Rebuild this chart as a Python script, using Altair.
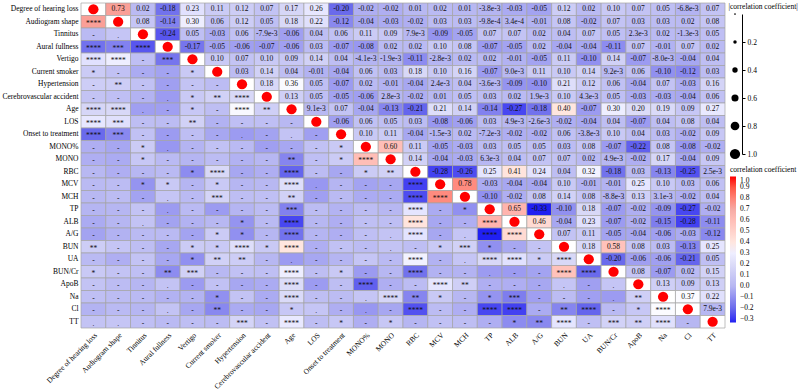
import altair as alt
import pandas as pd

# Variables in matrix order (rows top-to-bottom, columns left-to-right)
variables = [
    "Degree of hearing loss", "Audiogram shape", "Tinnitus", "Aural fullness",
    "Vertigo", "Current smoker", "Hypertension", "Cerebrovascular accident",
    "Age", "LOS", "Onset to treatment", "MONO%", "MONO", "RBC", "MCV", "MCH",
    "TP", "ALB", "A/G", "BUN", "UA", "BUN/Cr", "ApoB", "Na", "Cl", "TT",
]

# Upper triangle: correlation coefficients, row i holds columns i+1 .. end
r_deg = [0.73, 0.02, -0.18, 0.23, 0.11, 0.12, 0.07, 0.17, 0.26, -0.20, -0.02, -0.02, 0.01, 0.02, 0.01, -3.8e-3, -0.03, -0.05, 0.12, 0.02, 0.10, 0.07, 0.05, -6.8e-3, 0.07]
r_aud = [0.08, -0.14, 0.30, 0.06, 0.12, 0.05, 0.18, 0.22, -0.12, -0.04, -0.03, -0.02, 0.03, 0.03, -9.8e-4, 3.4e-4, -0.01, 0.08, -0.02, 0.07, 0.03, 0.03, 0.02, 0.08]
r_tin = [-0.24, 0.05, -0.03, 0.06, -7.9e-3, -0.06, 0.04, 0.06, 0.11, 0.09, 7.9e-3, -0.09, -0.05, 0.07, 0.07, 0.02, 0.04, 0.07, 0.05, 2.3e-3, 0.02, -1.3e-3, 0.05]
r_aur = [-0.17, -0.05, -0.06, -0.07, -0.06, 0.03, -0.07, -0.08, 0.02, 0.02, 0.10, 0.08, -0.07, -0.05, 0.02, -0.04, -0.04, -0.11, 0.07, -0.01, 0.07, 0.02]
r_ver = [0.10, 0.07, 0.10, 0.09, 0.14, 0.04, -4.1e-3, -1.9e-3, -0.11, -2.8e-3, 0.02, 0.02, -0.01, -0.05, 0.11, -0.10, 0.14, -0.07, -8.0e-3, -0.04, 0.04]
r_smk = [0.03, 0.14, 0.04, -0.01, -0.04, 0.06, 0.03, 0.18, 0.10, 0.16, -0.07, 9.0e-3, 0.11, 0.10, 0.14, 9.2e-3, 0.06, -0.10, -0.12, 0.03]
r_hyp = [0.18, 0.36, 0.05, -0.07, 0.02, -0.01, -0.04, 2.4e-3, 0.04, -3.6e-3, -0.09, -0.10, 0.21, 0.12, 0.06, -0.04, 0.07, -0.03, 0.16]
r_cva = [0.13, 0.05, -0.05, -0.06, 2.8e-3, -0.02, 0.01, 0.05, 0.03, 0.02, 1.9e-3, 0.10, 4.3e-3, 0.05, -0.03, -0.03, -0.04, 0.06]
r_age = [9.1e-3, 0.07, -0.04, -0.13, -0.21, 0.21, 0.14, -0.14, -0.27, -0.18, 0.40, -0.07, 0.30, 0.20, 0.19, 0.09, 0.27]
r_los = [-0.06, 0.06, 0.05, 0.03, -0.08, -0.06, 0.03, 4.9e-3, -2.6e-3, -0.02, -0.04, 0.04, -0.07, 0.04, 0.08, 0.04]
r_ons = [0.10, 0.11, -0.04, -1.5e-3, 0.02, -7.2e-3, -0.02, -0.02, 0.06, -3.8e-3, 0.10, 0.04, 0.03, -0.02, 0.09]
r_mop = [0.60, 0.11, -0.05, -0.03, 0.03, 0.05, 0.05, 0.03, 0.08, -0.07, -0.22, 0.08, -0.08, -0.02]
r_mon = [0.14, -0.04, -0.03, 6.3e-3, 0.04, 0.07, 0.07, 0.02, 4.9e-3, -0.02, 0.17, -0.04, 0.09]
r_rbc = [-0.28, -0.26, 0.25, 0.41, 0.24, 0.04, 0.32, -0.18, 0.03, -0.13, -0.25, 2.5e-3]
r_mcv = [0.78, -0.03, -0.04, -0.04, 0.10, -0.01, -0.01, 0.25, 0.10, 0.03, 0.06]
r_mch = [-0.10, -0.02, 0.08, 0.14, 0.08, -8.8e-3, 0.13, 3.1e-3, -0.02, 0.04]
r_tp = [0.65, -0.33, -0.10, 0.18, -0.07, -0.02, -0.09, -0.27, -0.02]
r_alb = [0.46, -0.04, 0.23, -0.07, -0.02, -0.15, -0.28, -0.11]
r_ag = [0.07, 0.11, -0.05, -0.04, -0.06, -0.03, -0.12]
r_bun = [0.18, 0.58, 0.08, 0.03, -0.13, 0.25]
r_ua = [-0.20, -0.06, -0.06, -0.21, 0.05]
r_bcr = [0.08, -0.07, 0.02, 0.15]
r_apob = [0.13, 0.09, 0.13]
r_na = [0.37, 0.22]
r_cl = [7.9e-3]
upper = [r_deg, r_aud, r_tin, r_aur, r_ver, r_smk, r_hyp, r_cva, r_age, r_los,
         r_ons, r_mop, r_mon, r_rbc, r_mcv, r_mch, r_tp, r_alb, r_ag, r_bun,
         r_ua, r_bcr, r_apob, r_na, r_cl]

# Lower triangle: significance marks, row i holds columns 0 .. i-1
s_aud = ["****"]
s_tin = ["-", "."]
s_aur = ["****", "***", "****"]
s_ver = ["****", "****", "-", "***"]
s_smk = ["*", "-", "-", "-", "*"]
s_hyp = ["-", "**", "-", "-", "-", "-"]
s_cva = ["-", "-", "-", ".", "*", "**", "****"]
s_age = ["****", "****", ".", "-", "*", "-", "****", "**"]
s_los = ["****", "***", "-", "-", "**", "-", "-", "-", "-"]
s_ons = ["****", "***", "-", "-", "-", "-", ".", "-", ".", "-"]
s_mop = ["-", "-", "*", ".", "-", "-", "-", "-", "-", "-", "*"]
s_mon = ["-", "-", "*", "-", "-", "-", "-", "-", "**", "-", "*", "****"]
s_rbc = ["-", "-", "-", "-", "*", "****", "-", "-", "****", "-", "-", "*", "**"]
s_mcv = ["-", "-", "*", "*", "-", "*", "-", "-", "****", ".", "-", "-", "-", "****"]
s_mch = ["-", "-", "-", ".", "-", "***", "-", "-", "**", "-", "-", "-", "-", "****", "****"]
s_tp = ["-", "-", "-", ".", "-", "-", "-", "-", "***", "-", "-", "-", "-", "****", "-", "*"]
s_alb = ["-", "-", ".", "-", "-", "-", "*", "-", "****", "-", "-", "-", "-", "****", "-", "-", "****"]
s_ag = ["-", "-", "-", "-", "-", "*", "*", "-", "****", "-", "-", "-", ".", "****", "-", ".", "****", "****"]
s_bun = ["**", "-", "-", "-", "*", "*", "****", "*", "****", "-", "-", "-", ".", "-", "*", "***", "*", "-", "-"]
s_ua = ["-", "-", "-", "-", "*", "**", "**", "-", ".", "-", "-", "-", "-", "****", "-", ".", "****", "****", "*", "****"]
s_bcr = ["*", "-", "-", "**", "***", "-", "-", "-", "****", "-", "*", "-", "-", "****", "-", "-", ".", "-", "-", "****", "****"]
s_apob = ["-", "-", "-", ".", "-", "-", "-", "-", "****", "-", "-", "****", "-", "-", "****", "**", "-", "-", "-", ".", "-", "."]
s_na = ["-", "-", "-", "-", "-", "*", "-", "-", "****", "-", "-", ".", "****", "**", "*", "-", "*", "***", "-", "-", "-", ".", "**"]
s_cl = ["-", "-", "-", ".", "-", "**", "-", "-", "*", ".", "-", ".", "-", "****", "-", "-", "****", "****", "-", "**", "****", "-", "*", "****"]
s_tt = [".", ".", "-", "-", "-", "-", "***", "-", "****", "-", "*", "-", "*", "-", "-", "-", "-", "*", "**", "****", "-", "***", "**", "****", "-"]
stars = [s_aud, s_tin, s_aur, s_ver, s_smk, s_hyp, s_cva, s_age, s_los, s_ons,
         s_mop, s_mon, s_rbc, s_mcv, s_mch, s_tp, s_alb, s_ag, s_bun, s_ua,
         s_bcr, s_apob, s_na, s_cl, s_tt]

# Size-legend entries and colour-legend ticks
size_legend_values = [0.0, 0.2, 0.4, 0.6, 0.8, 1.0]
size_legend_ticks = [0.2, 0.4, 0.6, 0.8, 1.0]
color_legend_ticks = [-0.3, -0.2, -0.1, 0.0, 0.1, 0.2, 0.3, 0.4, 0.5, 0.6, 0.7, 0.8, 0.9, 1.0]


def fmt(v):
    if v != 0 and abs(v) < 0.01:
        m, e = f"{v:.1e}".split("e")
        return f"{m}e{int(e)}"
    return f"{v:.2f}"


records = []
n = len(variables)
for i in range(n):
    for j in range(n):
        if i == j:
            r, kind, label = 1.0, "diag", ""
        elif j > i:
            r = upper[i][j - i - 1]
            kind, label = "upper", fmt(r)
        else:
            r = upper[j][i - j - 1]
            kind, label = "lower", stars[i - 1][j]
        records.append({"row": variables[i], "col": variables[j], "r": r,
                        "absr": abs(r), "kind": kind, "label": label})
df = pd.DataFrame(records)

FONT = "Liberation Serif"
FS = 7.5

color_scale = alt.Scale(
    domain=[-0.33, -0.2, 0.0, 0.2, 0.38, 0.7, 1.0],
    range=["#2020f2", "#6a6aec", "#b6b6f2", "#dcdcf8", "#ffffff", "#f6aaa4", "#ff0000"],
    clamp=True,
)
size_scale = alt.Scale(type="pow", exponent=1.5, domain=[0, 1], range=[3, 105])

band = alt.Scale(paddingInner=0, paddingOuter=0)
base = alt.Chart(df).encode(
    x=alt.X("col:N", sort=variables, scale=band, title=None,
            axis=alt.Axis(labelAngle=-45, ticks=False, domain=False, labelPadding=3,
                          labelFont=FONT, labelFontSize=FS, labelColor="black",
                          labelLimit=200)),
    y=alt.Y("row:N", sort=variables, scale=band, title=None,
            axis=alt.Axis(ticks=False, domain=False, labelPadding=3,
                          labelFont=FONT, labelFontSize=FS, labelColor="black",
                          labelLimit=200)),
)

cells = base.mark_rect(stroke="#a3a3a3", strokeWidth=0.7).encode(
    color=alt.condition("datum.kind == 'diag'", alt.value("white"),
                        alt.Color("r:Q", scale=color_scale, legend=None))
)
numbers = base.transform_filter("datum.kind == 'upper'").mark_text(
    font=FONT, fontSize=FS, color="#111111", baseline="middle"
).encode(text="label:N")
marks = base.transform_filter("datum.kind == 'lower'").mark_text(
    font=FONT, fontSize=FS, color="#111111", baseline="middle", dy=2
).encode(text="label:N")
circles = base.transform_filter("datum.kind == 'diag'").mark_circle(
    color="#ff0000", opacity=1
).encode(size=alt.Size("absr:Q", scale=size_scale, legend=None))

main = alt.layer(cells, numbers, marks, circles).properties(width=644, height=325)

leg_df = pd.DataFrame({"v": size_legend_values, "k": ["" for _ in size_legend_values]})
size_key = alt.Chart(leg_df).mark_circle(color="black", opacity=1).encode(
    x=alt.X("k:N", axis=None, scale=band),
    y=alt.Y("v:Q", scale=alt.Scale(domain=[0, 1], range=[11, 151]),
            axis=alt.Axis(orient="right", values=size_legend_ticks, format=".1f",
                          domainColor="black", tickColor="black", tickSize=3,
                          labelFont=FONT, labelFontSize=FS, labelColor="black",
                          labelPadding=2, grid=False,
                          title="|correlation coefficient|", titleFont=FONT,
                          titleFontSize=FS, titleFontWeight="normal", titleAngle=0,
                          titleAlign="left", titleBaseline="top", titleX=-14, titleY=-1,
                          titleColor="black")),
    size=alt.Size("v:Q", scale=size_scale, legend=None),
)
color_key = alt.Chart(leg_df).mark_point(opacity=0).encode(
    color=alt.Color("v:Q", scale=color_scale,
                    legend=alt.Legend(orient="none", legendX=2, legendY=163,
                                      direction="vertical", title="correlation coefficient",
                                      titleFont=FONT, titleFontSize=FS,
                                      titleFontWeight="normal", titleColor="black",
                                      titlePadding=3, gradientLength=146,
                                      gradientThickness=6, values=color_legend_ticks,
                                      format=".1f", labelFont=FONT, labelFontSize=FS,
                                      labelColor="black", labelOffset=4,
                                      labelOverlap=False, gradientStrokeWidth=0))
)
panel = alt.layer(size_key, color_key).properties(width=14, height=325)

chart = (
    alt.hconcat(main, panel, spacing=2)
    .resolve_scale(color="independent")
    .configure_view(stroke=None)
    .properties(padding={"left": 2, "top": 2, "right": 0, "bottom": 0})
)

chart.save("out.html", embed_options={"renderer": "svg", "actions": False})
